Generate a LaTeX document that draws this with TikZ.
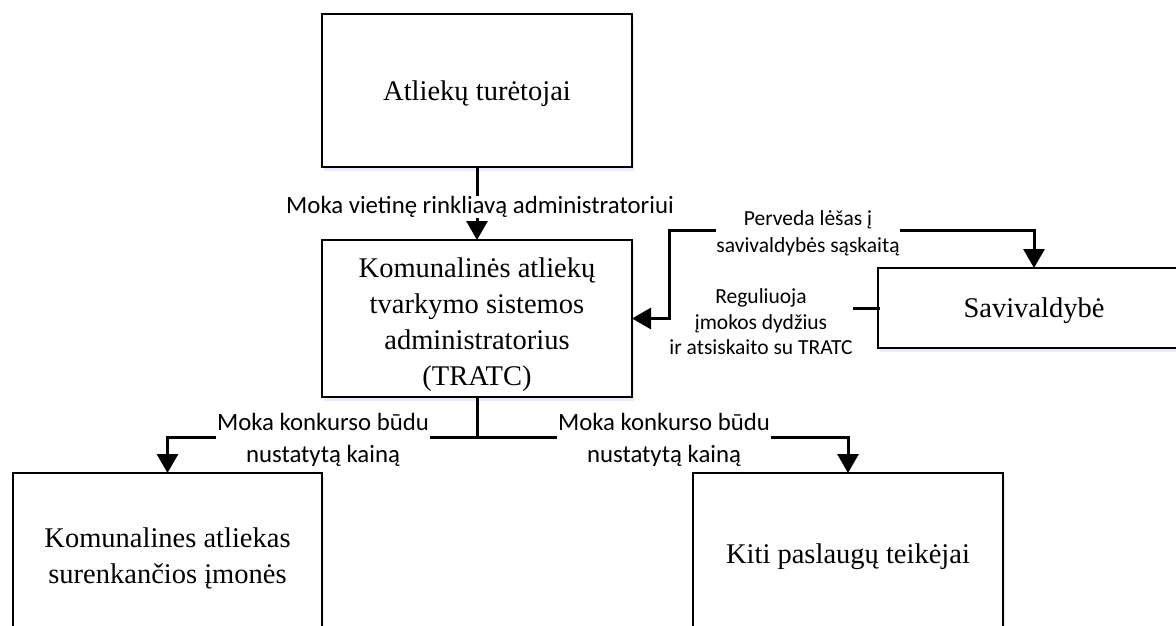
\documentclass[tikz,border=0pt]{standalone}
\usepackage{fontspec}
\setmainfont{Liberation Serif}
\newfontfamily\labfont{Carlito}
\usetikzlibrary{arrows.meta,shadows}
\begin{document}
\begin{tikzpicture}[x=1pt,y=-1pt,
  box/.style={draw=black, line width=2.5pt, fill=white, minimum width=310pt,
    inner sep=0pt, outer sep=0pt,
    drop shadow={shadow xshift=2pt, shadow yshift=-4pt, fill=blue!10, opacity=0.8}},
  boxtext/.style={inner sep=0pt, align=center, font=\fontsize{28.5}{36}\selectfont},
  lab/.style={inner sep=2pt, align=center, font=\labfont\fontsize{24.8}{32}\selectfont},
  slab/.style={inner sep=2pt, align=center, font=\labfont\fontsize{21.5}{25.5}\selectfont},
  conn/.style={line width=3pt, line cap=rect},
  arr/.style={conn, -{Triangle[length=19pt,width=21pt]}}
]
\clip (0,0) rectangle (1176,626);
% boxes
\node[box, minimum height=153pt] (top) at (477,90.5) {};
\node[boxtext] (topt) at (477,94) {Atliekų turėtojai};
\node[box, minimum height=157pt] (tratc) at (477,318.5) {};
\node[boxtext] (tratct) at (477,325) {Komunalinės atliekų\\tvarkymo sistemos\\administratorius\\(TRATC)};
\node[box, minimum width=312pt, minimum height=80pt] (sav) at (1034,308) {};
\node[boxtext] (savt) at (1034,311) {Savivaldybė};
\node[box, minimum width=309pt, minimum height=166pt] (lbox) at (167.5,556) {};
\node[boxtext] (lboxt) at (167.5,558) {Komunalines atliekas\\surenkančios įmonės};
\node[box, minimum height=166pt] (kiti) at (848,556) {};
\node[boxtext] (kitit) at (848,557) {Kiti paslaugų teikėjai};
% labels
\node[lab] (l1) at (480,207) {Moka vietinę rinkliavą administratoriui};
\node[slab, font=\labfont\fontsize{21.5}{27}\selectfont] (pv) at (808,233.5) {Perveda lėšas į\\savivaldybės sąskaitą};
\node[slab] (reg) at (761,322) {Reguliuoja\\įmokos dydžius\\ir atsiskaito su TRATC};
\node[lab] (ll) at (323,440) {Moka konkurso būdu\\nustatytą kainą};
\node[lab] (lr) at (664,440) {Moka konkurso būdu\\nustatytą kainą};
% junctions
\coordinate (J1) at (669,318.5);
\coordinate (J2) at (477,437);
% connectors
\draw[conn] (top.south) -- (top.south |- l1.north);
\draw[arr] (tratc.north |- l1.south) -- (tratc.north);
\draw[arr] (J1) -- (tratc.east);
\draw[conn] (J1) |- ([yshift=3.5pt]pv.west);
\draw[arr] ([yshift=3.5pt]pv.east) -| (sav.north);
\draw[conn] (sav.west) -- (sav.west -| reg.east);
\draw[conn] (tratc.south) -- (J2);
\draw[conn] (J2) -- ([yshift=3pt]ll.east);
\draw[arr] ([yshift=3pt]ll.west) -| (lbox.north);
\draw[conn] (J2) -- ([yshift=3pt]lr.west);
\draw[arr] ([yshift=3pt]lr.east) -| (kiti.north);
\end{tikzpicture}
\end{document}
